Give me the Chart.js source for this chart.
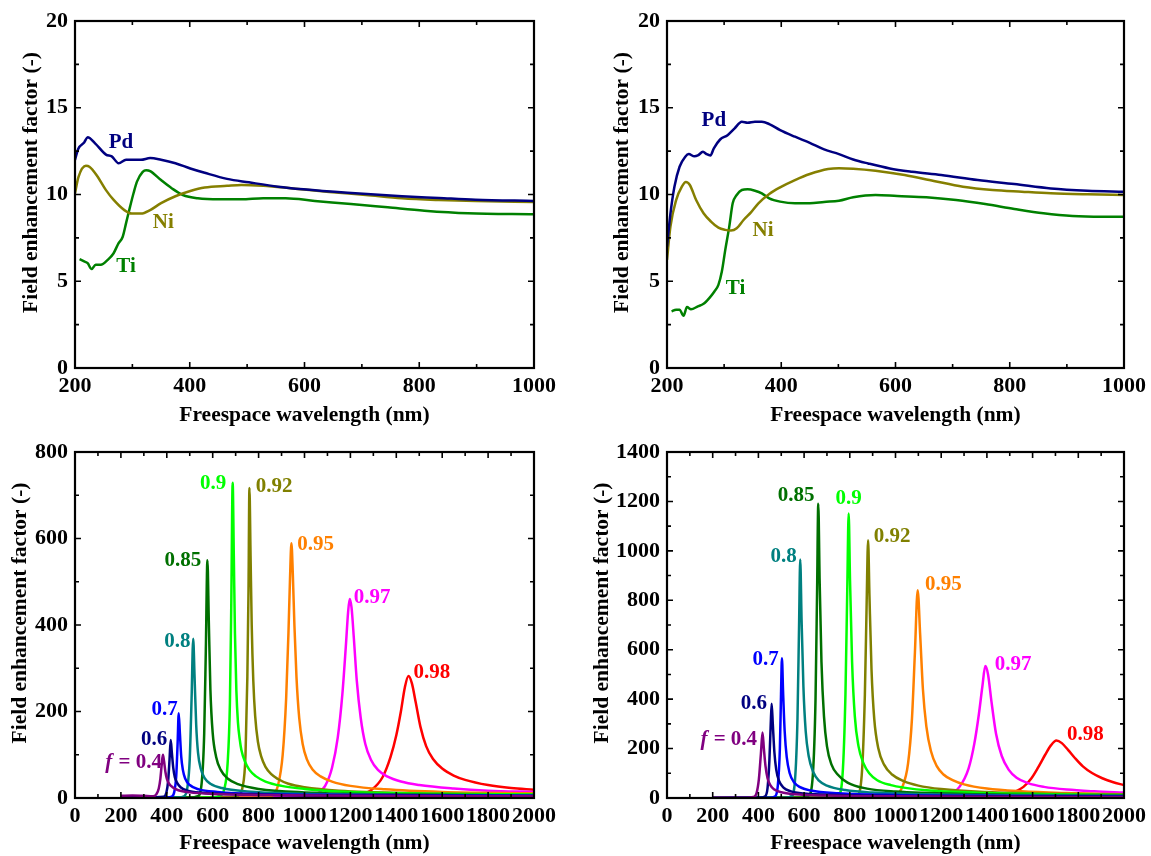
<!DOCTYPE html>
<html><head><meta charset="utf-8">
<script src="https://cdn.jsdelivr.net/npm/chart.js@4.4.1/dist/chart.umd.min.js"></script>
<style>
html,body{margin:0;padding:0;background:#fff;}
body{width:1151px;height:856px;position:relative;overflow:hidden;}
canvas{position:absolute;display:block;}
</style></head>
<body>
<canvas id="cA" width="575" height="430" style="left:0;top:0;width:575px;height:430px"></canvas>
<canvas id="cB" width="576" height="430" style="left:575px;top:0;width:576px;height:430px"></canvas>
<canvas id="cC" width="575" height="426" style="left:0;top:430px;width:575px;height:426px"></canvas>
<canvas id="cD" width="576" height="426" style="left:575px;top:430px;width:576px;height:426px"></canvas>
<script>
// ---------------- DATA ----------------
// Top-left panel
const a_Pd = [[200,12.0],[206,12.65],[216,13.0],[222,13.3],[235,12.95],[254,12.3],[264,12.2],[276,11.8],[289,12.0],[299,12.0],[315,12.0],[331,12.1],[350,12.0],[375,11.8],[401,11.5],[426,11.25],[465,10.9],[503,10.7],[554,10.45],[598,10.3],[675,10.1],[770,9.9],[834,9.8],[898,9.7],[1000,9.63]];
const a_Ni = [[200,10.07],[206,11.0],[219,11.65],[225,11.6],[238,11.1],[254,10.25],[267,9.7],[286,9.1],[299,8.9],[315,8.9],[331,9.1],[350,9.5],[375,9.9],[401,10.2],[426,10.4],[465,10.5],[490,10.55],[528,10.5],[579,10.35],[643,10.15],[707,9.97],[770,9.78],[834,9.68],[898,9.62],[1000,9.57]];
const a_Ti = [[208,6.27],[216,6.14],[222,6.04],[229,5.7],[236,5.95],[245,5.95],[257,6.23],[267,6.6],[276,7.2],[283,7.55],[289,8.35],[296,9.3],[302,10.07],[308,10.74],[318,11.3],[324,11.4],[331,11.35],[350,10.83],[369,10.35],[388,9.97],[414,9.78],[452,9.72],[490,9.72],[528,9.78],[567,9.78],[618,9.63],[681,9.45],[745,9.26],[809,9.07],[885,8.92],[1000,8.86]];
// Top-right panel
const b_Pd = [[200,7.0],[206,8.9],[213,10.45],[222,11.6],[232,12.18],[238,12.33],[248,12.2],[254,12.25],[263,12.46],[269,12.33],[276,12.25],[282,12.66],[293,13.17],[306,13.42],[318,13.8],[331,14.19],[341,14.13],[354,14.19],[366,14.19],[379,14.06],[398,13.71],[424,13.33],[450,12.98],[475,12.6],[501,12.33],[526,12.02],[552,11.79],[590,11.5],[629,11.31],[680,11.12],[744,10.83],[808,10.6],[872,10.35],[936,10.22],[1000,10.16]];
const b_Ni = [[200,6.23],[206,8.15],[216,9.68],[226,10.45],[233,10.72],[240,10.55],[251,9.68],[264,8.92],[277,8.44],[290,8.09],[302,7.96],[312,7.92],[322,8.05],[334,8.53],[347,8.97],[360,9.49],[379,10.03],[398,10.41],[424,10.83],[450,11.18],[482,11.47],[501,11.52],[526,11.49],[565,11.37],[616,11.12],[667,10.78],[718,10.45],[770,10.26],[821,10.16],[872,10.07],[936,10.01],[1000,9.97]];
const b_Ti = [[208,3.26],[216,3.36],[222,3.36],[229,3.01],[235,3.51],[242,3.39],[254,3.55],[264,3.7],[274,4.03],[283,4.41],[290,4.79],[296,5.56],[302,6.81],[309,8.15],[315,9.49],[322,9.97],[331,10.26],[341,10.3],[354,10.22],[366,10.07],[379,9.78],[398,9.59],[424,9.49],[450,9.49],[475,9.57],[501,9.64],[526,9.84],[565,9.97],[603,9.91],[654,9.84],[706,9.68],[757,9.45],[808,9.17],[859,8.92],[910,8.76],[962,8.72],[1000,8.72]];
const topNames = ['Pd','Ni','Ti'];

// Bottom-left panel (fill factor f)
const c_f040 = [[200,5],[250,6],[300,5],[340,4],[355,9],[365,22],[372,45],[378,78],[383,100],[388,85],[394,60],[400,45],[410,33],[425,25],[450,18],[500,13],[600,9.5],[800,7],[1200,5],[2000,4]];
const c_f060 = [[200,2],[350,2],[385,3],[398,12],[406,40],[412,90],[417,134],[422,105],[428,70],[435,48],[445,35],[460,25],[490,17],[550,12],[700,9],[1000,6],[1500,5],[2000,4]];
const c_f070 = [[200,1],[400,1],[422,3],[433,15],[441,50],[447,125],[452,196],[457,150],[463,95],[470,65],[480,45],[500,30],[540,20],[620,14],[800,9],[1200,7],[2000,5]];
const c_f080 = [[200,0.5],[450,1],[475,4],[490,25],[500,90],[508,230],[515,368],[521,280],[528,170],[536,105],[548,68],[565,46],[590,33],[640,23],[750,15],[1000,10],[1500,7],[2000,5]];
const c_f085 = [[200,0.5],[500,1],[535,4],[552,35],[563,150],[570,340],[577,550],[583,410],[590,250],[600,150],[615,95],[635,65],[665,45],[710,32],[800,21],[1000,13],[1500,8],[2000,6]];
const c_f090 = [[200,0.5],[600,1],[630,5],[650,20],[665,80],[675,220],[681,450],[687,729],[692,560],[697,380],[703,250],[710,175],[718,135],[725,111],[740,85],[760,65],[789,50],[830,38],[900,28],[1000,21],[1200,14],[1600,10],[2000,8]];
const c_f092 = [[200,0.5],[680,1],[710,5],[730,25],[743,100],[751,280],[756,480],[760,717],[765,560],[770,400],[777,270],[785,190],[797,130],[812,95],[830,72],[855,55],[884,44],[930,33],[1000,25],[1150,17],[1500,11],[2000,8]];
const c_f095 = [[200,0.5],[820,1],[860,6],[885,30],[905,100],[920,230],[930,380],[937,510],[943,589],[949,520],[956,400],[965,280],[977,185],[992,125],[1010,90],[1035,66],[1070,50],[1120,38],[1200,28],[1350,20],[1600,14],[2000,11]];
const c_f097 = [[200,0.5],[1000,2],[1050,8],[1090,28],[1120,70],[1145,140],[1165,240],[1180,350],[1190,430],[1197,460],[1205,440],[1215,370],[1228,270],[1245,185],[1265,125],[1290,88],[1320,65],[1360,50],[1420,38],[1500,30],[1650,22],[1800,17],[2000,14]];
const c_f098 = [[200,0.5],[1150,2],[1230,6],[1290,18],[1340,48],[1375,95],[1400,145],[1420,200],[1437,255],[1453,282],[1468,265],[1485,220],[1505,165],[1530,120],[1560,90],[1600,68],[1650,52],[1700,42],[1800,30],[1900,23],[2000,19]];
// Bottom-right panel
const d_f040 = [[200,1],[350,1],[378,4],[392,20],[402,75],[411,180],[418,265],[424,200],[431,130],[440,80],[452,52],[470,34],[500,23],[560,15],[700,10],[1000,7],[1500,5],[2000,4]];
const d_f060 = [[200,0.5],[410,1],[428,6],[440,40],[448,150],[454,300],[458,381],[463,300],[470,185],[478,115],[490,70],[510,42],[540,28],[600,18],[750,12],[1100,8],[2000,5]];
const d_f070 = [[200,0.5],[450,1],[472,6],[485,50],[494,200],[499,420],[503,565],[508,430],[515,270],[524,165],[537,100],[555,65],[580,45],[630,30],[750,19],[1000,12],[1500,8],[2000,6]];
const d_f080 = [[200,0.5],[520,1],[545,8],[560,70],[571,320],[578,700],[583,965],[589,720],[597,450],[607,270],[620,170],[640,105],[665,70],[700,50],[780,32],[900,22],[1200,14],[2000,9]];
const d_f085 = [[200,0.5],[590,1],[620,10],[638,90],[650,400],[657,850],[662,1191],[668,880],[676,550],[687,330],[700,210],[720,135],[747,95],[790,62],[875,38],[1000,26],[1300,16],[2000,10]];
const d_f090 = [[200,0.5],[720,1],[750,10],[768,90],[781,420],[789,850],[795,1151],[801,880],[810,550],[822,330],[838,210],[860,140],[885,100],[920,72],[980,52],[1036,42],[1150,30],[1400,20],[2000,12]];
const d_f092 = [[200,0.5],[800,1],[832,10],[852,90],[866,420],[874,800],[880,1043],[886,820],[895,520],[907,320],[925,200],[950,135],[985,95],[1036,68],[1100,50],[1200,36],[1400,24],[1700,17],[2000,14]];
const d_f095 = [[200,0.5],[950,2],[995,10],[1030,45],[1055,140],[1072,320],[1085,590],[1097,841],[1108,660],[1120,440],[1135,290],[1155,190],[1180,130],[1210,95],[1250,72],[1300,55],[1400,38],[1550,27],[1750,20],[2000,15]];
const d_f097 = [[200,0.5],[1150,3],[1230,12],[1280,45],[1320,120],[1345,220],[1365,340],[1380,450],[1393,534],[1405,500],[1420,390],[1440,260],[1465,170],[1495,115],[1530,82],[1580,60],[1650,45],[1750,34],[1870,27],[2000,22]];
const d_f098 = [[200,0.5],[1400,3],[1470,10],[1520,24],[1560,45],[1595,80],[1625,125],[1655,175],[1680,213],[1704,233],[1728,222],[1755,195],[1785,162],[1820,128],[1860,101],[1905,80],[1950,65],[2000,52]];
const fLabels = ['0.4','0.6','0.7','0.8','0.85','0.9','0.92','0.95','0.97','0.98'];

// Tick labels / tick positions
const topXTicks = [200,400,600,800,1000];
const topXMinor = [300,500,700,900];
const topYTicks = [0,5,10,15,20];
const topYMinor = [2.5,7.5,12.5,17.5];
const botXTicks = [0,200,400,600,800,1000,1200,1400,1600,1800,2000];
const botXMinor = [100,300,500,700,900,1100,1300,1500,1700,1900];
const cYTicks = [0,200,400,600,800];
const cYMinor = [100,300,500,700];
const dYTicks = [0,200,400,600,800,1000,1200,1400];
const dYMinor = [100,300,500,700,900,1100,1300];

// ---------------- STYLE / LAYOUT ----------------
const FONT = "'Liberation Serif','Times New Roman',serif";
const topColors = ['#000080','#857F00','#008000'];
const botColors = ['#800080','#000080','#0000FF','#008080','#007000','#00FF00','#808000','#FF8000','#FF00FF','#FF0000'];

// label anchors (data units)
const tagA = [{x:280,y:12.98},{x:354,y:8.38},{x:289,y:5.85}];
const tagB = [{x:282,y:14.25},{x:368,y:7.9},{x:320,y:4.58}];
const tagC = [{x:375,y:82,right:true},{x:345,y:136},{x:390,y:205},{x:446,y:362},{x:470,y:548},{x:602,y:727},{x:868,y:721},{x:1048,y:587},{x:1295,y:463},{x:1555,y:289}];
const tagD = [{x:390,y:238,right:true},{x:380,y:381},{x:432,y:560},{x:510,y:975},{x:565,y:1224},{x:795,y:1212},{x:985,y:1057},{x:1210,y:862},{x:1515,y:541},{x:1831,y:256}];

function framePlugin(xMaj, xMin, yMaj, yMin) {
  return {
    id: 'frame',
    afterDatasetsDraw(chart) {
      const {ctx, chartArea: a, scales: {x, y}} = chart;
      ctx.save();
      ctx.strokeStyle = '#000';
      ctx.lineWidth = 1.6;
      ctx.beginPath();
      const xt = (vals, len) => vals.forEach(v => {
        const p = x.getPixelForValue(v);
        if (p <= a.left + 1 || p >= a.right - 1) return;
        ctx.moveTo(p, a.bottom); ctx.lineTo(p, a.bottom - len);
        ctx.moveTo(p, a.top); ctx.lineTo(p, a.top + len);
      });
      const yt = (vals, len) => vals.forEach(v => {
        const p = y.getPixelForValue(v);
        if (p <= a.top + 1 || p >= a.bottom - 1) return;
        ctx.moveTo(a.left, p); ctx.lineTo(a.left + len, p);
        ctx.moveTo(a.right, p); ctx.lineTo(a.right - len, p);
      });
      xt(xMaj, 6); xt(xMin, 4); yt(yMaj, 6); yt(yMin, 4);
      ctx.stroke();
      ctx.lineWidth = 2.2;
      ctx.strokeRect(a.left, a.top, a.right - a.left, a.bottom - a.top);
      ctx.restore();
    }
  };
}

function tagPlugin(anchors, texts, colors, yTitleX) {
  return {
    id: 'tags',
    afterDatasetsDraw(chart) {
      const {ctx, chartArea: a, scales: {x, y}} = chart;
      ctx.save();
      ctx.textBaseline = 'middle';
      anchors.forEach((t, i) => {
        const px = x.getPixelForValue(t.x), py = y.getPixelForValue(t.y);
        ctx.fillStyle = colors[i];
        if (t.right) {
          const rest = ' = ' + texts[i];
          ctx.font = 'italic bold 21px ' + FONT;
          const w1 = ctx.measureText('f').width;
          ctx.font = 'bold 21px ' + FONT;
          const w2 = ctx.measureText(rest).width;
          const sx = px - w1 - w2;
          ctx.textAlign = 'left';
          ctx.font = 'italic bold 21px ' + FONT;
          ctx.fillText('f', sx, py);
          ctx.font = 'bold 21px ' + FONT;
          ctx.fillText(rest, sx + w1 + 1, py);
        } else {
          ctx.textAlign = 'center';
          ctx.font = 'bold 21px ' + FONT;
          ctx.fillText(texts[i], px, py);
        }
      });
      // y-axis title
      ctx.fillStyle = '#000';
      ctx.font = 'bold 21.5px ' + FONT;
      ctx.textAlign = 'center';
      ctx.translate(yTitleX, (a.top + a.bottom) / 2 - 12);
      ctx.rotate(-Math.PI / 2);
      ctx.fillText('Field enhancement factor (-)', 0, 0);
      ctx.restore();
    }
  };
}

function make(id, series, colors, texts, anchors, cfg) {
  const datasets = series.map((s, i) => ({
    data: s.map(([x, y]) => ({x, y})),
    borderColor: colors[i],
    borderWidth: 2.5,
    pointRadius: 0,
    fill: false,
    cubicInterpolationMode: 'monotone'
  }));
  const tickFont = {family: FONT, size: 22, weight: 'bold'};
  new Chart(document.getElementById(id), {
    type: 'line',
    data: {datasets},
    options: {
      responsive: false,
      animation: false,
      events: [],
      layout: {padding: {top: cfg.pt, right: cfg.pr, left: 0, bottom: 0}},
      plugins: {legend: {display: false}, tooltip: {enabled: false}},
      scales: {
        x: {
          type: 'linear', min: cfg.xmin, max: cfg.xmax,
          grid: {display: false, drawTicks: false},
          border: {display: false},
          afterBuildTicks: s => { s.ticks = cfg.xMaj.map(v => ({value: v})); },
          afterFit: s => { s.height = cfg.xh; },
          ticks: {autoSkip: false, maxRotation: 0, minRotation: 0, padding: 5, color: '#000', font: tickFont, callback: v => String(v)},
          title: {display: true, text: 'Freespace wavelength (nm)', color: '#000', font: {family: FONT, size: 21.5, weight: 'bold'}, padding: {top: 0, bottom: cfg.xtp}}
        },
        y: {
          type: 'linear', min: cfg.ymin, max: cfg.ymax,
          grid: {display: false, drawTicks: false},
          border: {display: false},
          afterBuildTicks: s => { s.ticks = cfg.yMaj.map(v => ({value: v})); },
          afterFit: s => { s.width = cfg.yw; },
          ticks: {autoSkip: false, padding: 7, color: '#000', font: tickFont, callback: v => String(v)}
        }
      }
    },
    plugins: [framePlugin(cfg.xMaj, cfg.xMin, cfg.yMaj, cfg.yMin), tagPlugin(anchors, texts, colors, cfg.ytx)]
  });
}

make('cA', [a_Pd, a_Ni, a_Ti], topColors, topNames, tagA,
  {xmin: 200, xmax: 1000, ymin: 0, ymax: 20, xMaj: topXTicks, xMin: topXMinor, yMaj: topYTicks, yMin: topYMinor,
   pt: 21, pr: 41, xh: 62, yw: 75, xtp: 2, ytx: 31});
make('cB', [b_Pd, b_Ni, b_Ti], topColors, topNames, tagB,
  {xmin: 200, xmax: 1000, ymin: 0, ymax: 20, xMaj: topXTicks, xMin: topXMinor, yMaj: topYTicks, yMin: topYMinor,
   pt: 21, pr: 25, xh: 62, yw: 92, xtp: 2, ytx: 47});
make('cC', [c_f040, c_f060, c_f070, c_f080, c_f085, c_f090, c_f092, c_f095, c_f097, c_f098], botColors, fLabels, tagC,
  {xmin: 0, xmax: 2000, ymin: 0, ymax: 800, xMaj: botXTicks, xMin: botXMinor, yMaj: cYTicks, yMin: cYMinor,
   pt: 22, pr: 41, xh: 58, yw: 75, xtp: 0, ytx: 20});
make('cD', [d_f040, d_f060, d_f070, d_f080, d_f085, d_f090, d_f092, d_f095, d_f097, d_f098], botColors, fLabels, tagD,
  {xmin: 0, xmax: 2000, ymin: 0, ymax: 1400, xMaj: botXTicks, xMin: botXMinor, yMaj: dYTicks, yMin: dYMinor,
   pt: 22, pr: 24, xh: 58, yw: 92, xtp: 0, ytx: 27});
</script>
</body></html>
